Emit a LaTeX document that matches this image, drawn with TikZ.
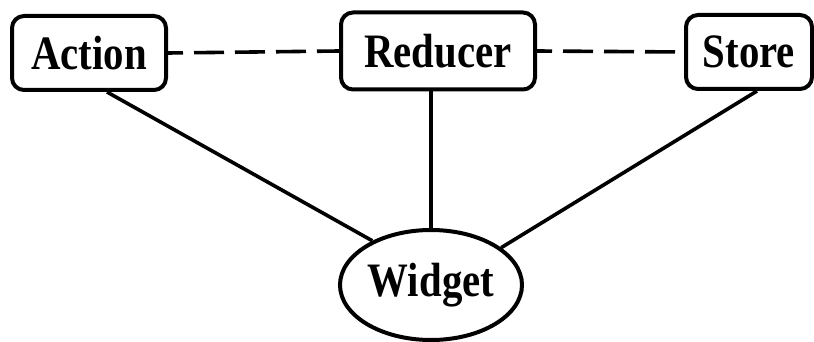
\documentclass[tikz,border=0pt]{standalone}
\usepackage{fontspec}
\setmainfont{Liberation Serif}
\newfontfamily\labelfont[FakeStretch=0.85]{Liberation Serif}
\usetikzlibrary{shapes.geometric}
\begin{document}
\begin{tikzpicture}[x=1pt,y=-1pt,
  boxnode/.style={draw,line width=4pt,rounded corners=12pt,inner sep=0pt,
    font=\labelfont\bfseries\fontsize{48}{48}\selectfont},
  ovalnode/.style={draw,ellipse,line width=4pt,inner sep=0pt,
    font=\labelfont\bfseries\fontsize{48}{48}\selectfont},
  link/.style={line width=3.6pt},
  dashlink/.style={line width=3.6pt,dash pattern=on 30pt off 11pt,dash phase=15pt}]
\useasboundingbox (0,0) rectangle (814,342);
\node[boxnode,minimum width=154pt,minimum height=74pt] (Action) at (89,53) {Action};
\node[boxnode,minimum width=194pt,minimum height=77pt] (Reducer) at (438,51) {\raisebox{-5pt}{Reducer}};
\node[boxnode,minimum width=126pt,minimum height=74pt] (Store) at (749,52) {Store};
\node[ovalnode,minimum width=182pt,minimum height=110pt] (Widget) at (431,285) {Widget};
% dashed links along the top row
\draw[dashlink] (Action.east) -- (Reducer.west);
\draw[dashlink] (Reducer.east) -- (Store.west);
% solid links down to the widget
\draw[link] ([xshift=18pt]Action.south) -- (Widget.143);
\draw[link] (Widget.north) -- (Widget.north |- Reducer.south);
\draw[link] ([xshift=8pt]Store.south) -- (Widget.28);
\end{tikzpicture}
\end{document}
